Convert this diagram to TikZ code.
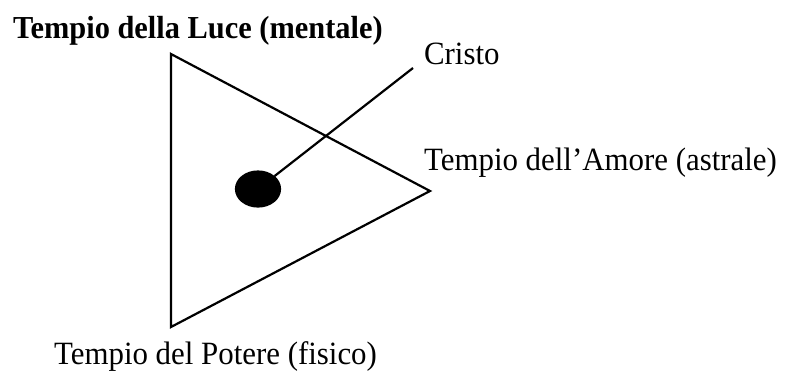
\documentclass[tikz,border=0pt]{standalone}
\usepackage{fontspec}
\setmainfont[FakeStretch=0.95]{Liberation Serif}
\usetikzlibrary{shapes.geometric}

\begin{document}
\begin{tikzpicture}
[
	x=1pt, y=-1pt,
	lbl/.style={inner sep=0pt, anchor=base west, font=\fontsize{32.5}{38}\selectfont},
	blob/.style={ellipse, draw, fill, inner sep=0pt, minimum width=44pt, minimum height=35pt},
	line width=2.2pt
]
	\useasboundingbox (0,0) rectangle (790,370);

	% triangle corners
	\coordinate (luce) at (171,54);
	\coordinate (amore) at (430,191);
	\coordinate (potere) at (171,327);
	\draw[line join=miter] (luce) -- (amore) -- (potere) -- cycle;

	% Christ in the centre
	\node[blob] (cristo) at (258,189) {};
	\coordinate (cristoend) at (413,68);
	\draw (cristo) -- (cristoend);

	% labels
	\node[lbl, font=\fontsize{32}{38}\selectfont\bfseries] (lluce) at (12,38) {Tempio della Luce (mentale)};
	\node[lbl] (lcristo) at (423,64) {Cristo};
	\node[lbl] (lamore) at (423,170) {Tempio dell’Amore (astrale)};
	\node[lbl] (lpotere) at (53,364) {Tempio del Potere (fisico)};

\end{tikzpicture}
\end{document}
